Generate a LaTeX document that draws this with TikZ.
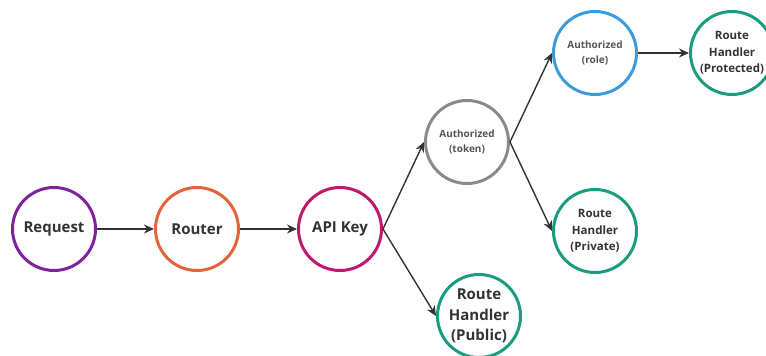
\documentclass[tikz,border=0pt]{standalone}
\usepackage{fontspec}
\setmainfont{Open Sans}
\usetikzlibrary{arrows.meta}
\definecolor{cpurple}{HTML}{7E22A0}
\definecolor{corange}{HTML}{E2643A}
\definecolor{cmagenta}{HTML}{C0186A}
\definecolor{cgray}{HTML}{8A8A8A}
\definecolor{cblue}{HTML}{3B9BDB}
\definecolor{cteal}{HTML}{1A9D7F}
\definecolor{ctext}{HTML}{333333}
\definecolor{csmall}{HTML}{555555}
\begin{document}
\begin{tikzpicture}[x=1pt,y=-1pt,
  ring/.style={circle, draw, line width=3pt, minimum size=83pt, inner sep=0pt, align=center, font=\bfseries, text=ctext},
  big/.style={font=\fontsize{15}{20.5}\selectfont\bfseries},
  mid/.style={font=\fontsize{11.5}{16.5}\selectfont\bfseries},
  small/.style={font=\fontsize{10}{15.5}\selectfont\bfseries, text=csmall},
  conn/.style={draw=ctext, line width=1.4pt, -{Stealth[length=10pt,width=9pt]}}]
\useasboundingbox (0,0) rectangle (766,356);
\node[ring, big, draw=cpurple] (req) at (54,229) {Request};
\node[ring, big, draw=corange] (rout) at (197,229) {Router};
\node[ring, big, draw=cmagenta] (api) at (340,229) {API Key};
\node[ring, small, draw=cgray] (tok) at (467,142) {Authorized\\(token)};
\node[ring, big, draw=cteal] (pub) at (479,316) {Route\\Handler\\(Public)};
\node[ring, small, draw=cblue] (role) at (595,53) {Authorized\\(role)};
\node[ring, mid, draw=cteal] (priv) at (595,231) {Route\\Handler\\(Private)};
\node[ring, mid, draw=cteal] (prot) at (732,53) {Route\\Handler\\(Protected)};
\draw[conn] (req) -- (rout);
\draw[conn] (rout) -- (api);
\draw[conn] (api.east) -- (tok.west);
\draw[conn] (api.east) -- (pub.west);
\draw[conn] (tok.east) -- (role.west);
\draw[conn] (tok.east) -- (priv.west);
\draw[conn] (role) -- (prot);
\end{tikzpicture}
\end{document}
